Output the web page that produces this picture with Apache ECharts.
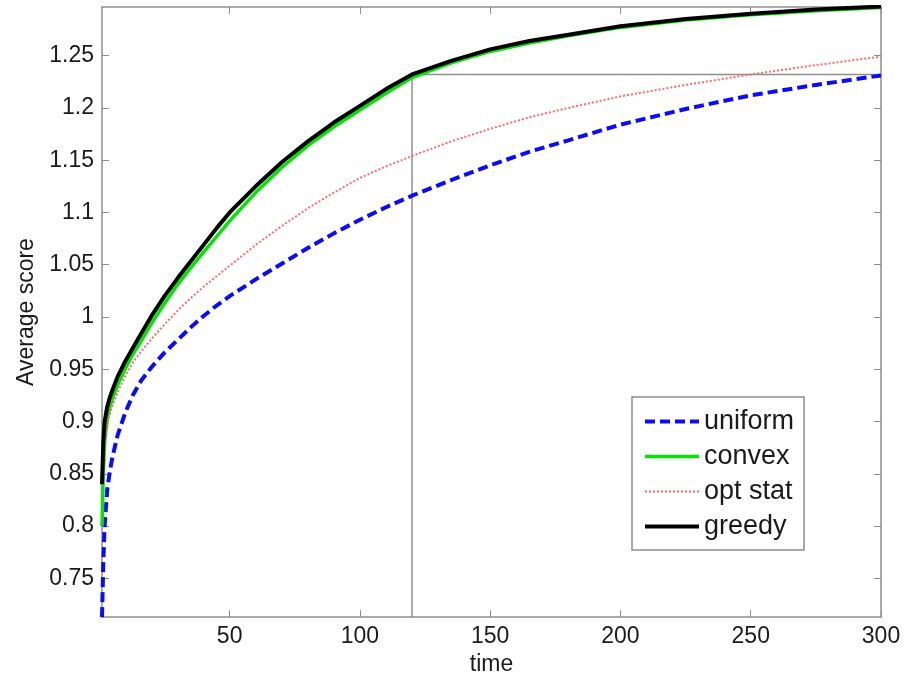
<!DOCTYPE html>
<html>
<head>
<meta charset="utf-8">
<script src="https://cdn.jsdelivr.net/npm/echarts@6/dist/echarts.min.js"></script>
<style>
  html, body { margin: 0; padding: 0; background: #fff; }
  #scoreChart { width: 912px; height: 681px; }
</style>
</head>
<body>
<div id="scoreChart"></div>
<script>
var timeSteps = [1, 1.5, 2, 3, 4, 5, 7, 10, 13, 16, 20, 25, 30, 35, 40, 45, 50, 60, 70, 80, 90, 100, 110, 120, 135, 150, 165, 180, 200, 225, 250, 275, 300];

var uniformScore = [0.713, 0.765, 0.800, 0.835, 0.852, 0.866, 0.887, 0.909, 0.926, 0.939, 0.952, 0.966, 0.978, 0.990, 1.001, 1.011, 1.020, 1.036, 1.051, 1.066, 1.080, 1.093, 1.105, 1.116, 1.131, 1.145, 1.158, 1.169, 1.184, 1.199, 1.212, 1.222, 1.231];
var convexScore = [0.800, 0.850, 0.880, 0.903, 0.914, 0.922, 0.935, 0.951, 0.965, 0.977, 0.994, 1.013, 1.031, 1.047, 1.062, 1.077, 1.092, 1.119, 1.143, 1.164, 1.182, 1.198, 1.214, 1.229, 1.243, 1.254, 1.262, 1.269, 1.277, 1.284, 1.289, 1.293, 1.296];
var optStatScore = [0.850, 0.868, 0.880, 0.896, 0.907, 0.915, 0.928, 0.944, 0.957, 0.967, 0.979, 0.993, 1.006, 1.018, 1.029, 1.039, 1.049, 1.069, 1.087, 1.104, 1.119, 1.133, 1.144, 1.154, 1.168, 1.180, 1.191, 1.200, 1.211, 1.222, 1.232, 1.241, 1.249];
var greedyScore = [0.840, 0.880, 0.900, 0.914, 0.923, 0.930, 0.943, 0.958, 0.971, 0.984, 1.001, 1.020, 1.037, 1.053, 1.069, 1.085, 1.100, 1.125, 1.148, 1.168, 1.186, 1.202, 1.218, 1.232, 1.245, 1.256, 1.264, 1.270, 1.278, 1.285, 1.290, 1.294, 1.297];

// the grey box: greedy at t=120 already reaches uniform's final value
var boxTime = [120, 120, 300];
var boxScore = [0.713, 1.232, 1.232];

var xTicks = [50, 100, 150, 200, 250, 300];
var yTicks = [0.75, 0.8, 0.85, 0.9, 0.95, 1, 1.05, 1.1, 1.15, 1.2, 1.25];

function pairs(xs, ys) {
  return xs.map(function (x, i) { return [x, ys[i]]; });
}

var font = "'Liberation Sans', Arial, sans-serif";
var frameColor = "#8e8e8e";
var textColor = "#1a1a1a";

var blueStyle = { color: "#0a0aff", width: 4, type: [10, 5] };
var greenStyle = { color: "#00e600", width: 3.5 };
var redStyle = { color: "#ff6a6a", width: 2, type: [2, 2] };
var blackStyle = { color: "#000", width: 4 };

function xAxisCfg(pos, showLabel) {
  return {
    type: "value",
    position: pos,
    min: 1,
    max: 300,
    name: showLabel ? "time" : "",
    nameLocation: "middle",
    nameGap: 33,
    nameTextStyle: { color: textColor, fontSize: 23, fontFamily: font },
    axisLine: { show: true, onZero: false, lineStyle: { color: frameColor, width: 1.5 } },
    axisTick: { show: true, inside: true, length: 7, customValues: xTicks, lineStyle: { color: frameColor } },
    axisLabel: { show: showLabel, customValues: xTicks, margin: 8, color: textColor, fontSize: 23, fontFamily: font },
    splitLine: { show: false }
  };
}

function yAxisCfg(pos, showLabel) {
  return {
    type: "value",
    position: pos,
    min: 0.713,
    max: 1.2965,
    name: showLabel ? "Average score" : "",
    nameLocation: "middle",
    nameGap: 55,
    nameTextStyle: { color: textColor, fontSize: 23, fontFamily: font },
    axisLine: { show: true, onZero: false, lineStyle: { color: frameColor, width: 1.5 } },
    axisTick: { show: true, inside: true, length: 7, customValues: yTicks, lineStyle: { color: frameColor } },
    axisLabel: { show: showLabel, customValues: yTicks, margin: 8, color: textColor, fontSize: 23, fontFamily: font },
    splitLine: { show: false }
  };
}

var chart = echarts.init(document.getElementById("scoreChart"));
chart.setOption({
  animation: false,
  backgroundColor: "#fff",
  grid: { left: 102, right: 31, top: 7, bottom: 59 },
  xAxis: [xAxisCfg("bottom", true), xAxisCfg("top", false)],
  yAxis: [yAxisCfg("left", true), yAxisCfg("right", false)],
  legend: {
    data: [
      { name: "uniform", lineStyle: blueStyle },
      { name: "convex", lineStyle: greenStyle },
      { name: "opt stat", lineStyle: redStyle },
      { name: "greedy", lineStyle: blackStyle }
    ],
    orient: "vertical",
    left: 632,
    top: 397,
    padding: [11, 10, 10, 11],
    itemGap: 8,
    itemWidth: 54,
    itemHeight: 14,
    itemStyle: { opacity: 0 },
    backgroundColor: "#fff",
    borderColor: frameColor,
    borderWidth: 1.5,
    textStyle: { color: textColor, fontSize: 27, fontFamily: font }
  },
  series: [
    {
      name: "box",
      type: "line",
      data: pairs(boxTime, boxScore),
      symbol: "none",
      silent: true,
      lineStyle: { color: frameColor, width: 1.5 },
      z: 1
    },
    {
      name: "uniform",
      type: "line",
      data: pairs(timeSteps, uniformScore),
      symbol: "none",
      itemStyle: { color: blueStyle.color },
      lineStyle: blueStyle,
      z: 2
    },
    {
      name: "convex",
      type: "line",
      data: pairs(timeSteps, convexScore),
      symbol: "none",
      itemStyle: { color: greenStyle.color },
      lineStyle: greenStyle,
      z: 3
    },
    {
      name: "opt stat",
      type: "line",
      data: pairs(timeSteps, optStatScore),
      symbol: "none",
      itemStyle: { color: redStyle.color },
      lineStyle: redStyle,
      z: 4
    },
    {
      name: "greedy",
      type: "line",
      data: pairs(timeSteps, greedyScore),
      symbol: "none",
      itemStyle: { color: blackStyle.color },
      lineStyle: blackStyle,
      z: 5
    }
  ]
});
</script>
</body>
</html>
